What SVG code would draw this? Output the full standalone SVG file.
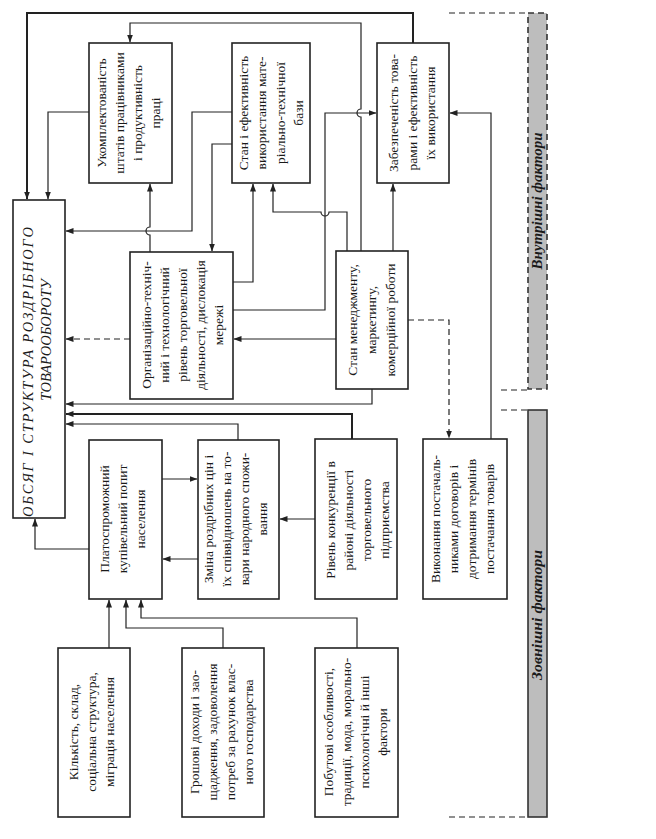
<svg xmlns="http://www.w3.org/2000/svg" width="656" height="839" viewBox="0 0 656 839">
<defs>
<marker id="ah" markerUnits="userSpaceOnUse" markerWidth="8" markerHeight="8" viewBox="0 0 8 8" refX="7.5" refY="4" orient="auto">
<path d="M0,1 L8,4 L0,7 Z" fill="#222"/>
</marker>
</defs>
<style>
.box{fill:#fff;stroke:#222;stroke-width:1.6}
.c{fill:none;stroke:#222;stroke-width:1.2}
.thick{stroke-width:2}
.d{stroke-dasharray:6,4}
.t{font-family:"Liberation Serif","Times New Roman",serif;font-size:13.5px;fill:#1a1a1a;text-anchor:middle}
.ti{font-family:"Liberation Serif","Times New Roman",serif;font-size:14.5px;font-style:italic;fill:#1a1a1a;text-anchor:middle}
.tb{font-family:"Liberation Serif","Times New Roman",serif;font-size:14.5px;font-style:italic;font-weight:bold;fill:#1a1a1a;text-anchor:middle}
.band{fill:#bdbdbd;stroke:#333;stroke-width:1.6}
</style>
<rect width="656" height="839" fill="#fff"/>

<g id="connectors">
<path class="c thick" d="M413,43 V13 H27 V199" marker-end="url(#ah)"/>
<path class="c" d="M361,251 V117 A4,4 0 0 1 361,109 V23 H130 V42" marker-end="url(#ah)"/>
<path class="c" d="M89,112 H48 V199" marker-end="url(#ah)"/>
<path class="c" d="M232,112 H192 V231 H66" marker-end="url(#ah)"/>
<path class="c" d="M232,144 H212 V251" marker-end="url(#ah)"/>
<path class="c" d="M150,252 V235 A4,4 0 0 1 150,227 V184" marker-end="url(#ah)"/>
<path class="c" d="M233,282 H253 V184" marker-end="url(#ah)"/>
<path class="c" d="M347,251 V212 H329 A4,4 0 0 1 321,212 H273 V184" marker-end="url(#ah)"/>
<path class="c" d="M233,310 H325 V113 H376" marker-end="url(#ah)"/>
<path class="c" d="M393,251 V184" marker-end="url(#ah)"/>
<path class="c" d="M491,439 V113 H450" marker-end="url(#ah)"/>
<path class="c d" d="M408,320 H449 V438" marker-end="url(#ah)"/>
<path class="c" d="M336,339 H234" marker-end="url(#ah)"/>
<path class="c d" d="M130,339 H66" marker-end="url(#ah)"/>
<path class="c" d="M372,389 V404 H66" marker-end="url(#ah)"/>
<path class="c thick" d="M352,439 V414 H66" marker-end="url(#ah)"/>
<path class="c" d="M238,440 V424 H66" marker-end="url(#ah)"/>
<path class="c" d="M162,479 H197" marker-end="url(#ah)"/>
<path class="c" d="M198,559 H163" marker-end="url(#ah)"/>
<path class="c" d="M315,519 H280" marker-end="url(#ah)"/>
<path class="c" d="M89,549 H35 V519" marker-end="url(#ah)"/>
<path class="c" d="M109,648 V600" marker-end="url(#ah)"/>
<path class="c" d="M223,648 V628 H126 V600" marker-end="url(#ah)"/>
<path class="c" d="M357,648 V618 H141 V600" marker-end="url(#ah)"/>
<path class="c d" d="M449,13 H528"/>
<path class="c d" d="M501,390 H528"/>
<path class="c d" d="M501,410 H528"/>
<path class="c d" d="M449,817 H528"/>
</g>

<g id="main">
<rect class="box" x="13" y="200" width="52" height="318"/>
<text class="ti" transform="translate(33,372) rotate(-90)" textLength="290" lengthAdjust="spacing">ОБСЯГ  І  СТРУКТУРА  РОЗДРІБНОГО</text>
<text class="ti" transform="translate(51,340) rotate(-90)">ТОВАРООБОРОТУ</text>
</g>

<g id="n-staff">
<rect class="box" x="89" y="43" width="83" height="140"/>
<text class="t" transform="translate(106,113) rotate(-90)"><tspan x="0">Укомплектованість</tspan><tspan x="0" dy="18">штатів працівниками</tspan><tspan x="0" dy="18">і продуктивність</tspan><tspan x="0" dy="18">праці</tspan></text>
</g>

<g id="n-base">
<rect class="box" x="232" y="43" width="78" height="140"/>
<text class="t" transform="translate(248,113) rotate(-90)"><tspan x="0">Стан і ефективність</tspan><tspan x="0" dy="18.3">використання мате-</tspan><tspan x="0" dy="18.3">ріально-технічної</tspan><tspan x="0" dy="18.3">бази</tspan></text>
</g>

<g id="n-goods">
<rect class="box" x="377" y="43" width="72" height="140"/>
<text class="t" transform="translate(398,113) rotate(-90)"><tspan x="0">Забезпеченість това-</tspan><tspan x="0" dy="18.5">рами і ефективність</tspan><tspan x="0" dy="18.5">їх використання</tspan></text>
</g>

<g id="n-org">
<rect class="box" x="130" y="252" width="103" height="147"/>
<text class="t" transform="translate(151,325) rotate(-90)"><tspan x="0">Організаційно-техніч-</tspan><tspan x="0" dy="18">ний і технологічний</tspan><tspan x="0" dy="18">рівень торговельної</tspan><tspan x="0" dy="18">діяльності, дислокація</tspan><tspan x="0" dy="18">мережі</tspan></text>
</g>

<g id="n-mgmt">
<rect class="box" x="336" y="251" width="72" height="138"/>
<text class="t" transform="translate(357,320) rotate(-90)"><tspan x="0">Стан менеджменту,</tspan><tspan x="0" dy="19">маркетингу,</tspan><tspan x="0" dy="19">комерційної роботи</tspan></text>
</g>

<g id="n-demand">
<rect class="box" x="89" y="440" width="73" height="159"/>
<text class="t" transform="translate(109,519) rotate(-90)"><tspan x="0">Платоспроможний</tspan><tspan x="0" dy="18">купівельний попит</tspan><tspan x="0" dy="18">населення</tspan></text>
</g>

<g id="n-prices">
<rect class="box" x="198" y="440" width="81" height="159"/>
<text class="t" transform="translate(213,519) rotate(-90)"><tspan x="0">Зміна роздрібних цін і</tspan><tspan x="0" dy="18">їх співвідношень на то-</tspan><tspan x="0" dy="18">вари народного спожи-</tspan><tspan x="0" dy="18">вання</tspan></text>
</g>

<g id="n-compet">
<rect class="box" x="315" y="439" width="82" height="160"/>
<text class="t" transform="translate(335,520) rotate(-90)"><tspan x="0">Рівень конкуренції в</tspan><tspan x="0" dy="18">районі діяльності</tspan><tspan x="0" dy="18">торговельного</tspan><tspan x="0" dy="18">підприємства</tspan></text>
</g>

<g id="n-supply">
<rect class="box" x="423" y="439" width="84" height="160"/>
<text class="t" transform="translate(440,519) rotate(-90)"><tspan x="0">Виконання постачаль-</tspan><tspan x="0" dy="18">никами договорів і</tspan><tspan x="0" dy="18">дотримання термінів</tspan><tspan x="0" dy="18">постачання товарів</tspan></text>
</g>

<g id="n-pop">
<rect class="box" x="58" y="648" width="72" height="169"/>
<text class="t" transform="translate(78,732) rotate(-90)"><tspan x="0">Кількість, склад,</tspan><tspan x="0" dy="18">соціальна структура,</tspan><tspan x="0" dy="18">міграція населення</tspan></text>
</g>

<g id="n-income">
<rect class="box" x="182" y="648" width="82" height="169"/>
<text class="t" transform="translate(199,732) rotate(-90)"><tspan x="0">Грошові доходи і зао-</tspan><tspan x="0" dy="18">щадження, задоволення</tspan><tspan x="0" dy="18">потреб за рахунок влас-</tspan><tspan x="0" dy="18">ного господарства</tspan></text>
</g>

<g id="n-habits">
<rect class="box" x="315" y="648" width="83" height="169"/>
<text class="t" transform="translate(333,732) rotate(-90)"><tspan x="0">Побутові особливості,</tspan><tspan x="0" dy="18">традиції, мода, морально-</tspan><tspan x="0" dy="18">психологічні й інші</tspan><tspan x="0" dy="18">фактори</tspan></text>
</g>

<g id="band-internal">
<rect class="band d" x="528" y="13" width="19" height="376"/>
<text class="tb" transform="translate(542,201) rotate(-90)" textLength="137" lengthAdjust="spacingAndGlyphs">Внутрішні фактори</text>
</g>

<g id="band-external">
<rect class="band" x="528" y="410" width="19" height="407"/>
<text class="tb" transform="translate(542,615) rotate(-90)" textLength="130" lengthAdjust="spacingAndGlyphs">Зовнішні  фактори</text>
</g>
</svg>
